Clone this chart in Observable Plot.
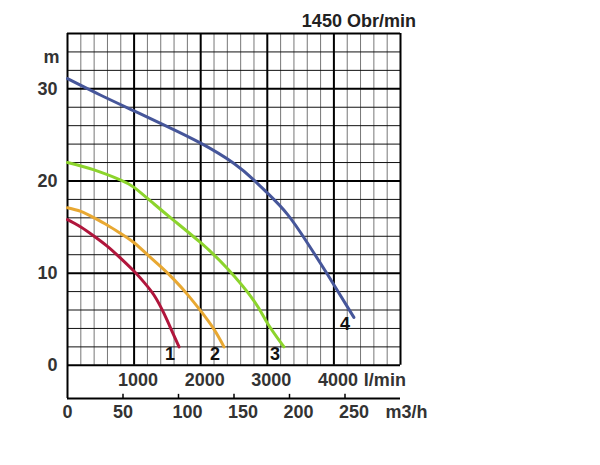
<!DOCTYPE html>
<html><head><meta charset="utf-8">
<script src="https://cdn.jsdelivr.net/npm/d3@7"></script>
<script src="https://cdn.jsdelivr.net/npm/@observablehq/plot@0.6"></script>
<style>body{margin:0;background:#fff} svg{display:block}</style>
</head><body><div id="chart"></div>
<script>
// ---- data ----
const title = "1450 Obr/min";
const curveNames = ["1", "2", "3", "4"];
const curveColors = ["#b0163c", "#e8a832", "#8cd42c", "#46569a"];
// flow in l/min, head in m
const flow1 = [0, 200, 400, 600, 800, 1000, 1150, 1300, 1450, 1575, 1675];
const head1 = [15.8, 15.0, 14.0, 12.9, 11.6, 10.2, 9.0, 7.6, 5.6, 3.6, 2.0];
const flow2 = [0, 200, 400, 600, 800, 1000, 1200, 1400, 1600, 1800, 2000, 2200, 2350];
const head2 = [17.1, 16.7, 16.0, 15.2, 14.3, 13.3, 12.0, 10.7, 9.3, 7.7, 5.9, 3.9, 2.0];
const flow3 = [0, 400, 800, 1000, 1300, 1600, 2000, 2400, 2800, 3000, 3250];
const head3 = [22.0, 21.2, 20.1, 19.3, 17.5, 15.7, 13.3, 10.5, 7.0, 4.6, 2.0];
const flow4 = [0, 500, 1000, 1500, 2000, 2500, 2800, 3000, 3300, 3600, 3900, 4300];
const head4 = [31.1, 29.3, 27.6, 25.9, 24.1, 21.9, 20.1, 18.7, 16.4, 13.3, 9.9, 5.2];
const yTicks = [0, 10, 20, 30];
const yUnit = "m";
const lminTicks = [1000, 2000, 3000, 4000];
const lminUnit = "l/min";
const m3hTicks = [0, 50, 100, 150, 200, 250];
const m3hUnit = "m3/h";

// ---- build table ----
const flows = [flow1, flow2, flow3, flow4];
const heads = [head1, head2, head3, head4];
const rows = [];
curveNames.forEach((c, i) => flows[i].forEach((q, j) => rows.push({curve: c, q, h: heads[i][j]})));
const ends = curveNames.map((c, i) => ({curve: c, q: flows[i][flows[i].length - 1], h: heads[i][heads[i].length - 1]}));

const X0 = 0, X1 = 5000, Y0 = -3.6, Y1 = 36;
const thinX = d3.range(200, X1, 200).filter(d => d % 1000 !== 0);
const thickX = d3.range(1000, X1, 1000);
const thinY = d3.range(2, Y1, 2).filter(d => d % 10 !== 0);
const thickY = [10, 20, 30];
const toLmin = d => d * 1000 / 60;
const font = {fontSize: 18, fontWeight: "bold"};

const chart = Plot.plot({
  width: 600, height: 465,
  marginLeft: 67, marginRight: 200, marginTop: 33, marginBottom: 67,
  x: {domain: [X0, X1], axis: null},
  y: {domain: [Y0, Y1], axis: null},
  color: {domain: curveNames, range: curveColors},
  style: {fontFamily: "'Liberation Sans', Arial, sans-serif", background: "#fff"},
  marks: [
    Plot.ruleX(thinX, {x: d => d, y1: 0, y2: Y1, stroke: "#777", strokeWidth: 1}),
    Plot.ruleY(thinY, {y: d => d, x1: X0, x2: X1, stroke: "#111", strokeWidth: 1}),
    Plot.ruleX(thickX, {x: d => d, y1: 0, y2: Y1, stroke: "#000", strokeWidth: 2}),
    Plot.ruleY(thickY, {y: d => d, x1: X0, x2: X1, stroke: "#000", strokeWidth: 2}),
    // frame
    Plot.ruleY([0, Y1], {y: d => d, x1: X0, x2: X1, stroke: "#000", strokeWidth: 2}),
    Plot.ruleY([Y0], {y: d => d, x1: X0, x2: X1, stroke: "#000", strokeWidth: 2}),
    Plot.ruleX([X0], {x: d => d, y1: Y0, y2: Y1, stroke: "#000", strokeWidth: 2}),
    Plot.ruleX([X1], {x: d => d, y1: 0, y2: Y1, stroke: "#000", strokeWidth: 2}),
    // m3/h ticks
    Plot.ruleX(m3hTicks.slice(1), {x: toLmin, y1: Y0, y2: Y0 + 0.45, stroke: "#000", strokeWidth: 1.5}),
    // curves
    Plot.line(rows, {x: "q", y: "h", z: "curve", stroke: "curve", strokeWidth: 3, curve: "natural"}),
    Plot.text(ends, {x: "q", y: "h", text: "curve", dx: -9, dy: 7, fill: "#111", ...font}),
    // y labels
    Plot.text(yTicks, {x: X0, y: d => d, text: d => String(d), textAnchor: "end", dx: -10, fill: "#333", ...font}),
    Plot.text([yUnit], {x: X0, y: 33.4, text: d => d, textAnchor: "end", dx: -8, fill: "#333", ...font}),
    // l/min labels
    Plot.text(lminTicks, {x: d => d, y: -1.65, text: d => String(d), dx: 4, fill: "#333", ...font}),
    Plot.text([lminUnit], {x: 4450, y: -1.65, text: d => d, textAnchor: "start", fill: "#333", ...font}),
    // m3/h labels
    Plot.text(m3hTicks.filter(d => d < 100), {x: toLmin, frameAnchor: "bottom", lineAnchor: "middle", dy: 14, text: d => String(d), fill: "#333", ...font}),
    Plot.text(m3hTicks.filter(d => d >= 100), {x: toLmin, frameAnchor: "bottom", lineAnchor: "middle", dy: 14, dx: 9, text: d => String(d), fill: "#333", ...font}),
    Plot.text([m3hUnit], {x: 4775, frameAnchor: "bottom", lineAnchor: "middle", dy: 14, text: d => d, textAnchor: "start", fill: "#333", ...font}),
    // title
    Plot.text([title], {x: 4375, frameAnchor: "top", lineAnchor: "middle", dy: -12, text: d => d, fill: "#222", ...font})
  ]
});
document.getElementById("chart").appendChild(chart);
</script>
</body></html>
